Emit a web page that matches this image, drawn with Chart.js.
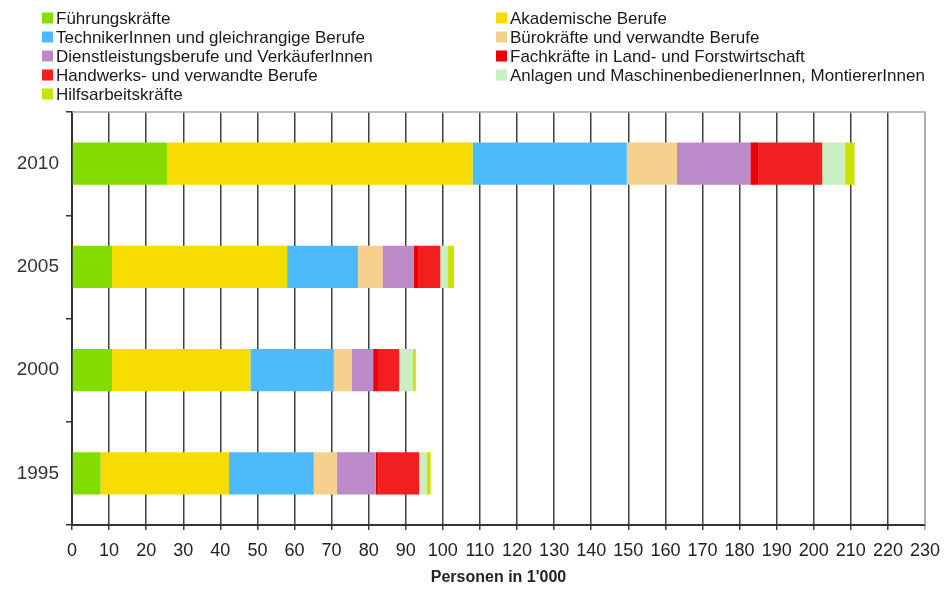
<!DOCTYPE html>
<html>
<head>
<meta charset="utf-8">
<script src="https://cdn.jsdelivr.net/npm/chart.js@4.4.1/dist/chart.umd.min.js"></script>
<style>
  html, body { margin: 0; padding: 0; background: #fff; }
  #wrap { width: 944px; height: 590px; }
</style>
</head>
<body>
<div id="wrap"><canvas id="chart"></canvas></div>
<script>
// Jahre (von oben nach unten)
const years = ["2010", "2005", "2000", "1995"];

// Berufshauptgruppen, Personen in 1'000
const fuehrung      = [25.6, 10.8, 10.8, 7.7];
const akademisch    = [82.4, 47.2, 37.3, 34.6];
const techniker     = [41.6, 19.1, 22.5, 22.9];
const buero         = [13.5, 6.6, 4.9, 6.2];
const dienstleistung = [19.8, 8.5, 5.7, 10.5];
const landForst     = [2.1, 1.1, 1.3, 0.8];
const handwerk      = [17.3, 6.0, 5.7, 10.9];
const anlagen       = [6.0, 2.1, 3.7, 2.0];
const hilfsarbeit   = [2.7, 1.6, 0.8, 1.1];

const seriesLabels = [
  "Führungskräfte",
  "Akademische Berufe",
  "TechnikerInnen und gleichrangige Berufe",
  "Bürokräfte und verwandte Berufe",
  "Dienstleistungsberufe und VerkäuferInnen",
  "Fachkräfte in Land- und Forstwirtschaft",
  "Handwerks- und verwandte Berufe",
  "Anlagen und MaschinenbedienerInnen, MontiererInnen",
  "Hilfsarbeitskräfte"
];
const seriesValues = [fuehrung, akademisch, techniker, buero, dienstleistung,
                      landForst, handwerk, anlagen, hilfsarbeit];
const seriesColors = ["#84dd00", "#f6dc00", "#4dbbfb", "#f6d18e", "#bc89c9",
                      "#ec0000", "#f11f1f", "#c9eec1", "#cce300"];

const xMax = 230;
const xStep = 10;

// Legende in zwei Spalten über dem Diagramm
const twoColLegend = {
  id: "twoColLegend",
  afterDraw(chart) {
    const ctx = chart.ctx;
    ctx.save();
    ctx.font = "17px 'Liberation Sans', Arial, sans-serif";
    ctx.textBaseline = "middle";
    chart.data.datasets.forEach((ds, i) => {
      const col = i % 2;
      const row = Math.floor(i / 2);
      const x = col === 0 ? 42 : 496;
      const y = 18 + row * 19;
      ctx.fillStyle = ds.backgroundColor;
      ctx.fillRect(x, y - 5.5, 11, 11);
      ctx.fillStyle = "#1a1a1a";
      ctx.fillText(ds.label, x + 14, y + 1);
    });
    ctx.restore();
  }
};

// hellgrauer Rahmen oben und rechts
const plotFrame = {
  id: "plotFrame",
  afterDatasetsDraw(chart) {
    const { ctx, chartArea: a } = chart;
    ctx.save();
    ctx.strokeStyle = "#a8a8a8";
    ctx.lineWidth = 1.5;
    ctx.beginPath();
    ctx.moveTo(a.left, a.top);
    ctx.lineTo(a.right, a.top);
    ctx.lineTo(a.right, a.bottom);
    ctx.stroke();
    ctx.restore();
  }
};

Chart.defaults.font.family = "'Liberation Sans', Arial, sans-serif";
Chart.defaults.color = "#333";

new Chart(document.getElementById("chart"), {
  type: "bar",
  data: {
    labels: years,
    datasets: seriesLabels.map((label, i) => ({
      label,
      data: seriesValues[i],
      backgroundColor: seriesColors[i],
      borderWidth: 0,
      barPercentage: 0.41,
      categoryPercentage: 1
    }))
  },
  options: {
    indexAxis: "y",
    responsive: true,
    maintainAspectRatio: false,
    animation: false,
    layout: { padding: { top: 112, right: 19, left: 0, bottom: 0 } },
    plugins: {
      legend: { display: false },
      tooltip: { enabled: false }
    },
    scales: {
      x: {
        stacked: true,
        min: 0,
        max: xMax,
        afterFit(scale) {
          scale.height = 65;
          scale.paddingLeft = 0;
          scale.paddingRight = 0;
        },
        ticks: {
          stepSize: xStep,
          autoSkip: false,
          maxRotation: 0,
          padding: 10,
          color: "#222",
          font: { size: 18 }
        },
        grid: {
          color: (c) => (c.tick && c.tick.value === xMax ? "#a8a8a8" : "#3f3f3f"),
          lineWidth: 1.5,
          tickLength: 5
        },
        border: { display: true, color: "#333", width: 2 },
        title: {
          display: true,
          text: "Personen in 1'000",
          color: "#222",
          font: { size: 16, weight: "bold" },
          padding: { top: 0, bottom: 3 }
        }
      },
      y: {
        stacked: true,
        afterFit(scale) { scale.width = 72; },
        ticks: {
          padding: 7,
          color: "#333",
          font: { size: 19 }
        },
        grid: {
          offset: true,
          drawOnChartArea: false,
          color: "#333",
          lineWidth: 1.5,
          tickLength: 6
        },
        border: { display: true, color: "#333", width: 2 }
      }
    }
  },
  plugins: [twoColLegend, plotFrame]
});
</script>
</body>
</html>
